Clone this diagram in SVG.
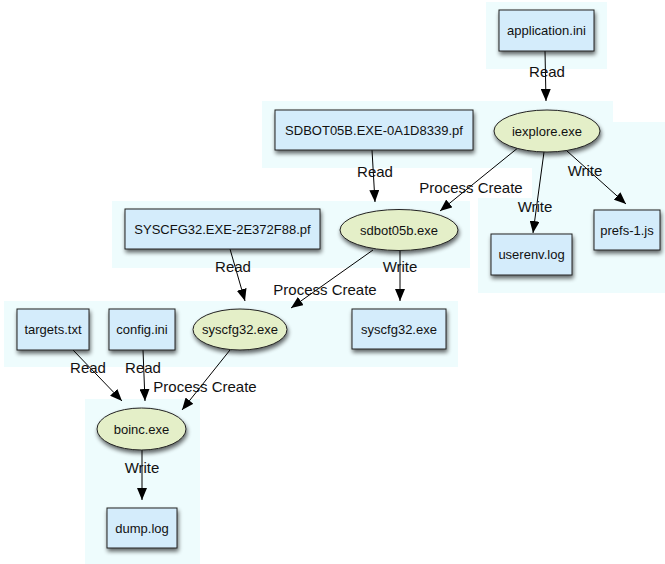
<svg xmlns="http://www.w3.org/2000/svg" width="665" height="564" viewBox="0 0 665 564">
<style>
.bg{fill:#eefcfd;stroke:none}
.box{fill:#d4ecfb;stroke:#222;stroke-width:1}
.ell{fill:#e4efc8;stroke:#222;stroke-width:1}
.nt{font-family:"Liberation Sans",Arial,sans-serif;font-size:13px;fill:#111;text-anchor:middle}
.lb{font-family:"Liberation Sans",Arial,sans-serif;font-size:15px;fill:#111;text-anchor:middle}
.edge{stroke:#000;stroke-width:1;fill:none;marker-end:url(#ah)}
</style>
<defs>
<marker id="ah" markerWidth="12" markerHeight="10" refX="12" refY="5" orient="auto" markerUnits="userSpaceOnUse">
<path d="M0,0 L12,5 L0,10 Z" fill="#000"/>
</marker>
<filter id="sh" x="-20%" y="-20%" width="150%" height="170%">
<feGaussianBlur in="SourceAlpha" stdDeviation="2"/>
<feOffset dx="1" dy="3" result="b"/>
<feComponentTransfer><feFuncA type="linear" slope="0.6"/></feComponentTransfer>
<feMerge><feMergeNode/><feMergeNode in="SourceGraphic"/></feMerge>
</filter>
</defs>
<g id="backgrounds">
<rect class="bg" x="486" y="2" width="121" height="67"/>
<rect class="bg" x="262" y="101" width="351" height="67"/>
<rect class="bg" x="532" y="122" width="133" height="171"/>
<rect class="bg" x="478" y="198" width="187" height="95"/>
<rect class="bg" x="112" y="201" width="358" height="67"/>
<rect class="bg" x="4" y="301" width="454" height="66"/>
<rect class="bg" x="85" y="399" width="115" height="165"/>
</g>
<g id="connectors">
<line class="edge" x1="545" y1="51" x2="546" y2="101"/>
<line class="edge" x1="372" y1="150" x2="375" y2="202"/>
<line class="edge" x1="519" y1="147" x2="440" y2="211"/>
<line class="edge" x1="544" y1="152" x2="533" y2="233"/>
<line class="edge" x1="567" y1="151" x2="626" y2="204"/>
<line class="edge" x1="230" y1="249" x2="245" y2="301"/>
<line class="edge" x1="373" y1="250" x2="291" y2="308"/>
<line class="edge" x1="400" y1="250" x2="400" y2="301"/>
<line class="edge" x1="73" y1="350" x2="122" y2="401"/>
<line class="edge" x1="143" y1="350" x2="145" y2="401"/>
<line class="edge" x1="230" y1="350" x2="182" y2="410"/>
<line class="edge" x1="142" y1="450" x2="142" y2="500"/>
<text class="lb" x="547" y="77">Read</text>
<text class="lb" x="375" y="177">Read</text>
<text class="lb" x="471" y="193">Process Create</text>
<text class="lb" x="535" y="212">Write</text>
<text class="lb" x="585" y="176">Write</text>
<text class="lb" x="233" y="272">Read</text>
<text class="lb" x="325" y="295">Process Create</text>
<text class="lb" x="400" y="272">Write</text>
<text class="lb" x="88" y="373">Read</text>
<text class="lb" x="143" y="373">Read</text>
<text class="lb" x="205" y="392">Process Create</text>
<text class="lb" x="142" y="473">Write</text>
</g>
<g id="application_ini"><rect class="box" filter="url(#sh)" x="499" y="10" width="95" height="41"/><text class="nt" x="546.5" y="35">application.ini</text></g>
<g id="iexplore_exe"><ellipse class="ell" filter="url(#sh)" cx="547" cy="131" rx="53" ry="21"/><text class="nt" x="547" y="135.5">iexplore.exe</text></g>
<g id="sdbot_pf"><rect class="box" filter="url(#sh)" x="275" y="110" width="198" height="40"/><text class="nt" x="374" y="134.5">SDBOT05B.EXE-0A1D8339.pf</text></g>
<g id="sdbot05b_exe"><ellipse class="ell" filter="url(#sh)" cx="399" cy="230" rx="59" ry="20.5"/><text class="nt" x="399" y="234.5">sdbot05b.exe</text></g>
<g id="syscfg_pf"><rect class="box" filter="url(#sh)" x="125" y="209" width="195" height="40"/><text class="nt" x="222.5" y="233.5">SYSCFG32.EXE-2E372F88.pf</text></g>
<g id="userenv_log"><rect class="box" filter="url(#sh)" x="491" y="234" width="81" height="41"/><text class="nt" x="531.5" y="259">userenv.log</text></g>
<g id="prefs_js"><rect class="box" filter="url(#sh)" x="594" y="210" width="66" height="40"/><text class="nt" x="627" y="234.5">prefs-1.js</text></g>
<g id="targets_txt"><rect class="box" filter="url(#sh)" x="17" y="309" width="72" height="41"/><text class="nt" x="53" y="334">targets.txt</text></g>
<g id="config_ini"><rect class="box" filter="url(#sh)" x="109" y="309" width="66" height="41"/><text class="nt" x="142" y="334">config.ini</text></g>
<g id="syscfg32_exe_proc"><ellipse class="ell" filter="url(#sh)" cx="240" cy="329.5" rx="47" ry="20.5"/><text class="nt" x="240" y="334">syscfg32.exe</text></g>
<g id="syscfg32_exe_file"><rect class="box" filter="url(#sh)" x="352" y="309" width="94" height="40"/><text class="nt" x="399" y="333.5">syscfg32.exe</text></g>
<g id="boinc_exe"><ellipse class="ell" filter="url(#sh)" cx="141.5" cy="429" rx="44.5" ry="21"/><text class="nt" x="141.5" y="433.5">boinc.exe</text></g>
<g id="dump_log"><rect class="box" filter="url(#sh)" x="107" y="508" width="70" height="40"/><text class="nt" x="142" y="532.5">dump.log</text></g>
</svg>
